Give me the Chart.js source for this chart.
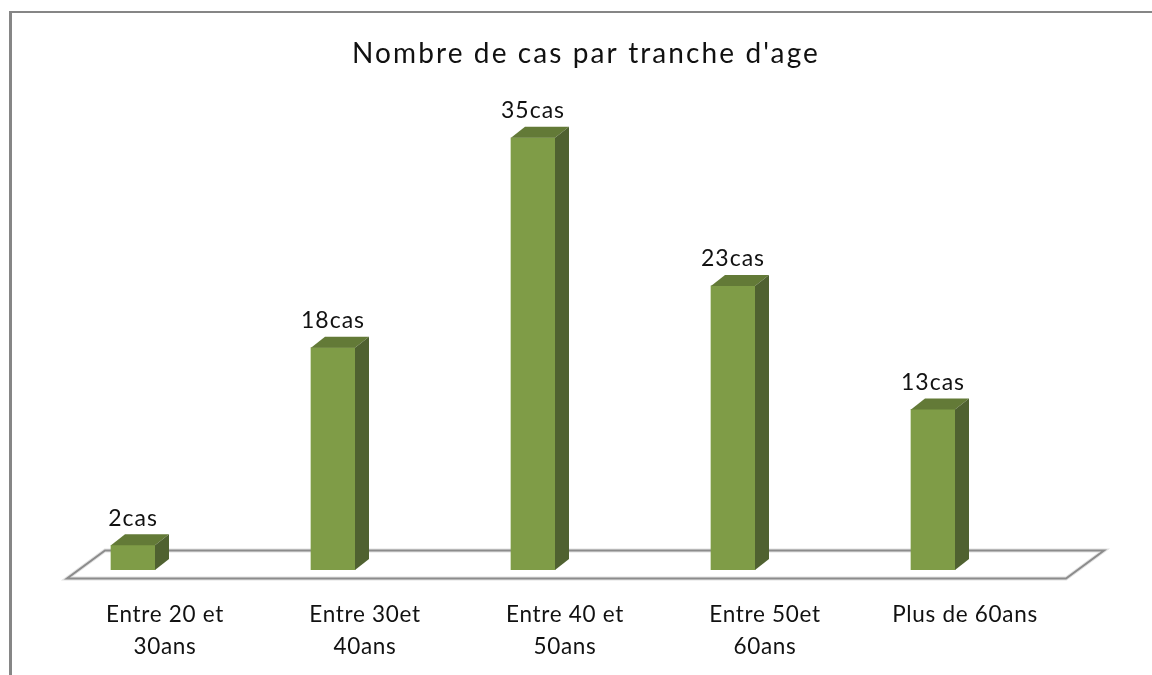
<!DOCTYPE html>
<html lang="fr">
<head>
<meta charset="utf-8">
<title>Nombre de cas par tranche d'age</title>
<script src="https://cdn.jsdelivr.net/npm/chart.js@4"></script>
<style>
  html, body { margin: 0; background: #fff; overflow: hidden; }
  #wrap { position: relative; width: 1152px; height: 675px; }
  #frame { position: absolute; left: 9px; top: 11px; right: 0; bottom: 0;
           border-left: 3px solid #868686; border-top: 2px solid #868686; }
  canvas { position: absolute; left: 0; top: 0; }
</style>
</head>
<body>
<div id="wrap">
  <div id="frame"></div>
  <canvas id="chart" width="1152" height="675"></canvas>
</div>
<script>
const categories = [
  ["Entre 20 et", "30ans"],
  ["Entre 30et", "40ans"],
  ["Entre 40 et", "50ans"],
  ["Entre 50et", "60ans"],
  ["Plus de 60ans"]
];
const cases = [2, 18, 35, 23, 13];
const unit = "cas";

const fontFamily = "Lato, 'Open Sans', sans-serif";
const frontColor = "#7f9c47";
const topColor = "#637a37";
const sideColor = "#4f6130";

// fake 3D: how far the bars and the floor go back
const depthX = 14;
const depthY = 11;

const floorPlugin = {
  id: "floor",
  beforeDatasetsDraw(chart) {
    const ctx = chart.ctx;
    const area = chart.chartArea;
    const left = area.left + 34;
    const right = area.right + 33;
    const front = area.bottom + 8.5;
    const back = area.bottom - 19.5;
    ctx.save();
    ctx.beginPath();
    ctx.moveTo(left, front);
    ctx.lineTo(right, front);
    ctx.lineTo(right + 38, back);
    ctx.lineTo(left + 38, back);
    ctx.closePath();
    ctx.lineWidth = 4;
    ctx.strokeStyle = "#e2e2e2";
    ctx.stroke();
    ctx.lineWidth = 2;
    ctx.strokeStyle = "#8c8c8c";
    ctx.stroke();
    ctx.restore();
  }
};

const boxPlugin = {
  id: "box3d",
  afterInit(chart) {
    // the title is spaced wider than the other texts
    const block = chart.titleBlock;
    const drawTitle = block.draw;
    block.draw = function () {
      chart.ctx.letterSpacing = "2.1px";
      drawTitle.call(block);
      chart.ctx.letterSpacing = "0.7px";
    };
  },
  afterLayout(chart) {
    // the title sits right of the plot centre in the original
    chart.titleBlock.left += 53;
    chart.titleBlock.right += 53;
  },
  beforeDraw(chart) {
    chart.ctx.letterSpacing = "0.7px";
  },
  beforeDatasetsDraw(chart) {
    chart.ctx.letterSpacing = "0px";
  },
  afterDatasetsDraw(chart) {
    const ctx = chart.ctx;
    const bars = chart.getDatasetMeta(0).data;
    ctx.save();
    bars.forEach((bar, i) => {
      const l = bar.x - bar.width / 2;
      const r = bar.x + bar.width / 2;

      ctx.fillStyle = topColor;
      ctx.beginPath();
      ctx.moveTo(l, bar.y);
      ctx.lineTo(l + depthX, bar.y - depthY);
      ctx.lineTo(r + depthX, bar.y - depthY);
      ctx.lineTo(r, bar.y);
      ctx.closePath();
      ctx.fill();

      ctx.fillStyle = sideColor;
      ctx.beginPath();
      ctx.moveTo(r, bar.y);
      ctx.lineTo(r + depthX, bar.y - depthY);
      ctx.lineTo(r + depthX, bar.base - depthY);
      ctx.lineTo(r, bar.base);
      ctx.closePath();
      ctx.fill();

      ctx.fillStyle = "#111";
      ctx.font = "23px " + fontFamily;
      ctx.letterSpacing = "1px";
      ctx.textAlign = "center";
      ctx.textBaseline = "middle";
      ctx.fillText(cases[i] + unit, bar.x, bar.y - 27);
    });
    ctx.restore();
  }
};

new Chart(document.getElementById("chart"), {
  type: "bar",
  data: {
    labels: categories,
    datasets: [{
      data: cases,
      backgroundColor: frontColor,
      borderWidth: 0,
      barThickness: 44
    }]
  },
  options: {
    responsive: false,
    animation: false,
    layout: {
      autoPadding: false,
      padding: { left: 33, right: 119, top: 0, bottom: 0 }
    },
    scales: {
      x: {
        grid: { display: false },
        border: { display: false },
        ticks: {
          color: "#111",
          maxRotation: 0,
          autoSkip: false,
          padding: 21,
          labelOffset: 32,
          font: { family: fontFamily, size: 22.5, lineHeight: 1.42 }
        },
        afterFit(scale) { scale.height = 105; }
      },
      y: {
        display: false,
        min: 0,
        max: 40
      }
    },
    plugins: {
      legend: { display: false },
      tooltip: { enabled: false },
      title: {
        display: true,
        text: "Nombre de cas par tranche d'age",
        color: "#111",
        font: { family: fontFamily, size: 28, weight: "normal", lineHeight: 1 },
        padding: { top: 40, bottom: 8 }
      }
    }
  },
  plugins: [floorPlugin, boxPlugin]
});
</script>
</body>
</html>
